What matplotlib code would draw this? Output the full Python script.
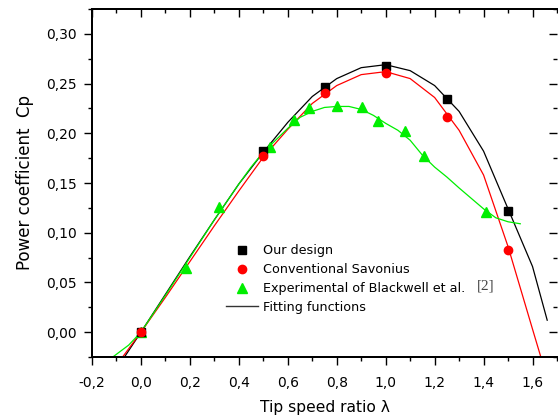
import matplotlib
matplotlib.use('Agg')
import matplotlib.pyplot as plt
from matplotlib.ticker import MultipleLocator, FuncFormatter
from matplotlib.lines import Line2D

plt.rcParams['font.family'] = ['DejaVu Sans']

# Measured points
our_x = [0.0, 0.5, 0.75, 1.0, 1.25, 1.5]
our_cp = [0.0, 0.182, 0.247, 0.268, 0.234, 0.122]

conv_x = [0.0, 0.5, 0.75, 1.0, 1.25, 1.5]
conv_cp = [0.0, 0.177, 0.241, 0.261, 0.216, 0.083]

exp_x = [0.0, 0.185, 0.32, 0.528, 0.627, 0.687, 0.802, 0.905, 0.97, 1.079, 1.156, 1.408]
exp_cp = [0.0, 0.065, 0.126, 0.186, 0.213, 0.225, 0.227, 0.226, 0.212, 0.202, 0.177, 0.121]

# Fitting curves
fit_our_x = [-0.07, 0.0, 0.1, 0.2, 0.3, 0.4, 0.5, 0.6, 0.7, 0.8, 0.9, 1.0, 1.1,
             1.2, 1.3, 1.4, 1.5, 1.6, 1.66]
fit_our_cp = [-0.026, 0.0, 0.038, 0.076, 0.113, 0.149, 0.181, 0.211, 0.237, 0.255,
              0.266, 0.269, 0.263, 0.248, 0.222, 0.182, 0.124, 0.066, 0.012]

fit_conv_x = [-0.09, 0.0, 0.1, 0.2, 0.3, 0.4, 0.5, 0.6, 0.7, 0.8, 0.9, 1.0, 1.1,
              1.2, 1.3, 1.4, 1.5, 1.6, 1.64]
fit_conv_cp = [-0.03, 0.0, 0.035, 0.071, 0.107, 0.142, 0.176, 0.204, 0.230, 0.248,
               0.259, 0.262, 0.255, 0.236, 0.203, 0.158, 0.086, 0.003, -0.03]

fit_exp_x = [-0.115, -0.05, 0.0, 0.1, 0.2, 0.3, 0.4, 0.45, 0.5, 0.55, 0.6, 0.65, 0.7,
             0.75, 0.8, 0.85, 0.9, 0.95, 1.0, 1.05, 1.1, 1.15, 1.2, 1.25, 1.3, 1.4,
             1.45, 1.5, 1.55]
fit_exp_cp = [-0.025, -0.013, 0.0, 0.037, 0.075, 0.113, 0.149, 0.166, 0.181, 0.193,
              0.205, 0.216, 0.222, 0.226, 0.227, 0.227, 0.224, 0.218, 0.210, 0.203,
              0.193, 0.178, 0.166, 0.156, 0.145, 0.124, 0.115, 0.111, 0.109]

green = '#00ee00'

fig = plt.figure(figsize=(5.58, 4.19), dpi=100)
ax = fig.add_axes([92 / 558, 1 - 357 / 419, (557 - 92) / 558, (357 - 9) / 419])

ax.plot(fit_our_x, fit_our_cp, color='black', lw=0.9)
ax.plot(fit_conv_x, fit_conv_cp, color='red', lw=0.9)
ax.plot(fit_exp_x, fit_exp_cp, color=green, lw=0.9)

ax.plot(our_x, our_cp, 's', color='black', ms=5.3, zorder=5)
ax.plot(conv_x, conv_cp, 'o', color='red', ms=6.0, zorder=5)
ax.plot(exp_x, exp_cp, '^', color=green, ms=7.0, zorder=4)

xlim = (-0.2, 1.7)
ylim = (-0.025, 0.325)
ax.set_xlim(xlim)
ax.set_ylim(ylim)


def comma(fmt):
    def f(v, pos):
        s = format(v, fmt).replace('.', ',')
        return s[1:] if s.startswith('-') and float(s[1:].replace(',', '.')) == 0 else s
    return FuncFormatter(f)


ax.xaxis.set_major_locator(MultipleLocator(0.2))
ax.xaxis.set_minor_locator(MultipleLocator(0.1))
ax.yaxis.set_major_locator(MultipleLocator(0.05))
ax.yaxis.set_minor_locator(MultipleLocator(0.025))
ax.xaxis.set_major_formatter(comma('.1f'))
ax.yaxis.set_major_formatter(comma('.2f'))

ax.tick_params(which='major', labelsize=10, width=1.0, length=5.7, direction='out')
ax.tick_params(which='minor', width=1.0, length=2.8, direction='out')
ax.tick_params(axis='x', which='major', pad=8)
ax.tick_params(axis='y', which='major', pad=5)

# mirrored ticks on top and right, pointing inward
topax = ax.twiny()
topax.set_xlim(xlim)
topax.xaxis.set_major_locator(MultipleLocator(0.2))
topax.xaxis.set_minor_locator(MultipleLocator(0.1))
topax.tick_params(axis='x', which='major', direction='in', length=5.5, width=1.0, labeltop=False)
topax.tick_params(axis='x', which='minor', direction='in', length=2.8, width=1.0)
rightax = ax.twinx()
rightax.set_ylim(ylim)
rightax.yaxis.set_major_locator(MultipleLocator(0.05))
rightax.yaxis.set_minor_locator(MultipleLocator(0.025))
rightax.tick_params(axis='y', which='major', direction='in', length=5.5, width=1.0, labelright=False)
rightax.tick_params(axis='y', which='minor', direction='in', length=2.8, width=1.0)
for a in (ax, topax, rightax):
    for s in a.spines.values():
        s.set_linewidth(1.3)
    a.spines['right'].set_visible(False)

ax.set_xlabel('Tip speed ratio λ', fontsize=11.2, labelpad=7)
ax.set_ylabel('Power coefficient  Cp', fontsize=12, labelpad=9)

handles = [
    Line2D([], [], ls='none', marker='s', color='black', ms=5.3),
    Line2D([], [], ls='none', marker='o', color='red', ms=6.0),
    Line2D([], [], ls='none', marker='^', color=green, ms=7.0),
    Line2D([], [], color='#333333', lw=1.0),
]
labels = ['Our design', 'Conventional Savonius',
          'Experimental of Blackwell et al.', 'Fitting functions']
ax.legend(handles, labels, loc='upper left', bbox_to_anchor=(0.278, 0.338),
          frameon=False, fontsize=9.2, handlelength=2.5, handletextpad=0.4,
          labelspacing=0.45, borderaxespad=0)
ax.text(1.371, 0.0466, '[2]', family='Liberation Serif', fontsize=11, color='#444444',
        va='center', ha='left')

fig.savefig('out.png', dpi=100)
